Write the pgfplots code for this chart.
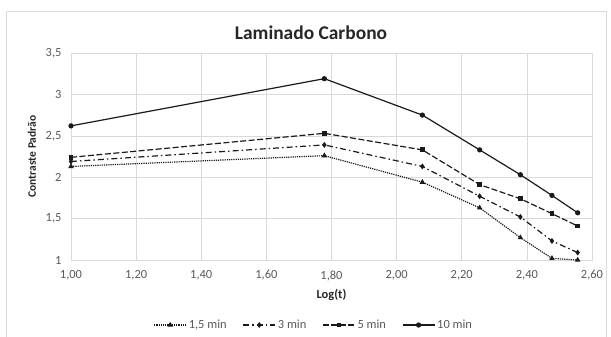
\documentclass[border=0pt]{standalone}
\usepackage{pgfplots}
\pgfplotsset{compat=1.18}
\usepackage{fontspec}
\setmainfont{Carlito}
\definecolor{gridc}{HTML}{D9D9D9}
\definecolor{tickc}{HTML}{595959}
\definecolor{linec}{HTML}{1A1A1A}
\begin{document}
\begin{tikzpicture}[x=1bp,y=1bp]
\path[use as bounding box] (-71,-76) rectangle (540,260);
\draw[gridc,line width=0.8bp] (-65,-80) -- (-65,249) -- (535,249) -- (535,-80);
\node[font=\fontsize{19.5}{22}\selectfont\bfseries, text=black!85] at (240,227) {Laminado Carbono};
\begin{axis}[
  at={(0,0)}, anchor=south west,
  scale only axis, width=521bp, height=207bp,
  xmin=1, xmax=2.6, ymin=1, ymax=3.5,
  xtick={1,1.2,...,2.61}, ytick={1,1.5,2,2.5,3,3.5},
  grid=major, grid style={gridc, line width=0.6bp},
  axis line style={gridc, line width=0.6bp},
  major tick length=0pt,
  tick label style={font=\fontsize{12.5}{14}\selectfont, text=tickc},
  /pgf/number format/assume math mode=true,
  /pgf/number format/use comma,
  xticklabel style={/pgf/number format/fixed, /pgf/number format/fixed zerofill, /pgf/number format/precision=2, yshift=-7bp},
  yticklabel style={/pgf/number format/fixed, xshift=-6bp},
  xlabel={\textbf{Log(t)}},
  ylabel={\textbf{Contraste Padrão}},
  xlabel style={font=\fontsize{12.5}{14}\selectfont, text=black!85, at={(axis description cs:0.5,-0.169)}, anchor=center},
  ylabel style={font=\fontsize{11.5}{13}\selectfont, text=black!85, at={(axis description cs:-0.075,0.5)}, anchor=center},
  legend columns=4,
  legend style={draw=none, fill=none, at={(axis description cs:0.466,-0.314)}, anchor=center,
    font=\fontsize{12.5}{14}\selectfont, text=tickc,
    /tikz/every even column/.append style={column sep=14bp}},
  legend cell align=left,
  legend image code/.code={\draw[mark repeat=2,mark phase=2] plot coordinates {(0bp,0bp) (16bp,0bp) (32bp,0bp)};},
  every axis plot/.append style={linec, line width=1.2bp, mark size=2bp, mark options={solid, fill=linec}},
  clip=false,
]
\addplot[densely dotted, mark=triangle*] coordinates {
(1.000,2.13) (1.778,2.26) (2.079,1.94) (2.255,1.63) (2.380,1.27) (2.477,1.02) (2.556,1.00)};
\addlegendentry{1,5 min}
\addplot[dash pattern=on 6bp off 3bp on 1.5bp off 3bp, mark=diamond*] coordinates {
(1.000,2.19) (1.778,2.39) (2.079,2.13) (2.255,1.77) (2.380,1.52) (2.477,1.23) (2.556,1.09)};
\addlegendentry{3 min}
\addplot[dash pattern=on 6bp off 2.5bp, mark=square*, mark size=1.8bp] coordinates {
(1.000,2.24) (1.778,2.53) (2.079,2.33) (2.255,1.91) (2.380,1.74) (2.477,1.56) (2.556,1.41)};
\addlegendentry{5 min}
\addplot[solid, mark=*] coordinates {
(1.000,2.62) (1.778,3.19) (2.079,2.75) (2.255,2.33) (2.380,2.03) (2.477,1.78) (2.556,1.57)};
\addlegendentry{10 min}
\end{axis}
\end{tikzpicture}
\end{document}
